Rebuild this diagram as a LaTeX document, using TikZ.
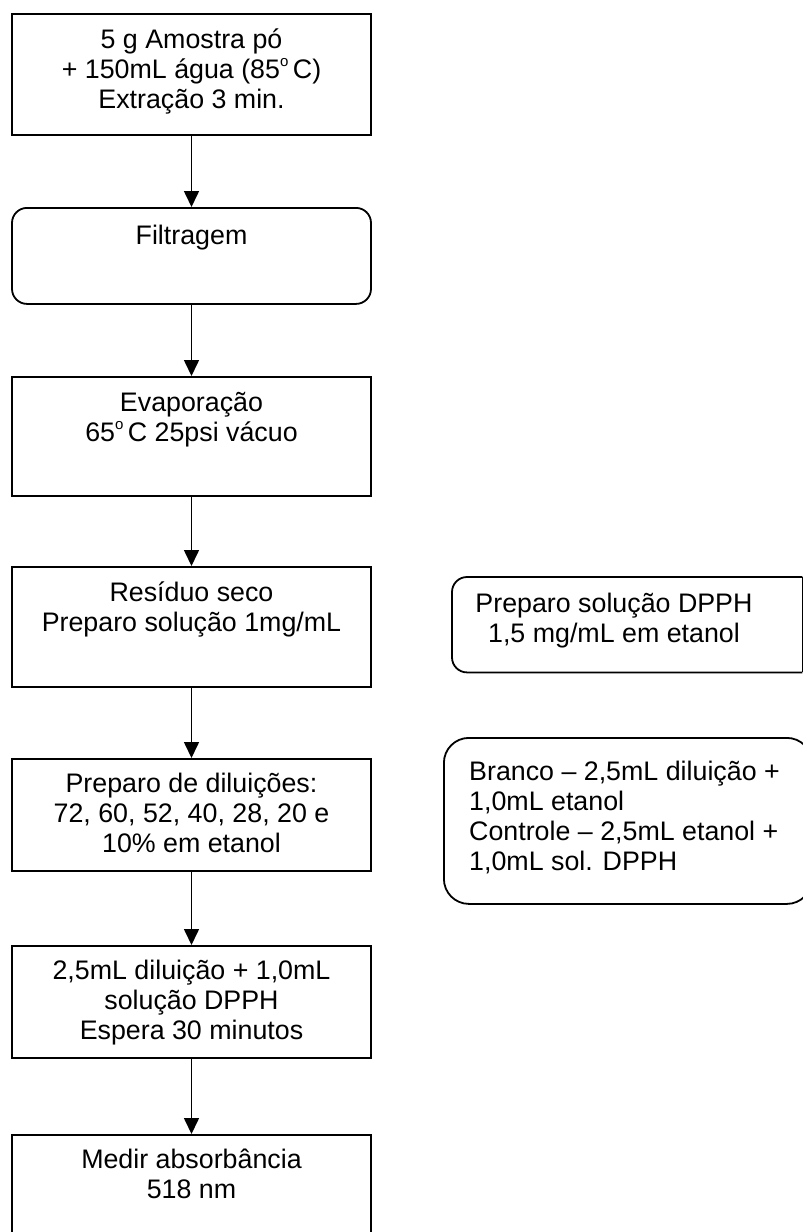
\documentclass[tikz,border=0pt]{standalone}
\usepackage{fontspec}
\setmainfont{Liberation Sans}
\usetikzlibrary{arrows.meta}
\tikzset{
  proc/.style={draw, line width=1.8pt, minimum width=359pt, inner sep=0pt, anchor=north},
  rbox/.style={proc, rounded corners=15pt},
  txt/.style={anchor=north, inner sep=0pt, align=center, font=\fontsize{26.8}{30}\selectfont},
  ltxt/.style={anchor=north west, inner sep=0pt, align=left, font=\fontsize{26.8}{30}\selectfont},
  flow/.style={line width=1.6pt, -{Triangle[length=16pt,width=15pt]}}
}
\newcommand{\fl}{\rule{0pt}{25pt}}
\newcommand{\dg}{\raisebox{0.42em}{\fontsize{15}{15}\selectfont o}}
\begin{document}
\begin{tikzpicture}[x=1pt,y=-1pt]
\useasboundingbox (0,0) rectangle (803,1232);
\clip (0,0) rectangle (803,1232);
\fill[white] (0,0) rectangle (803,1232);
% main column boxes
\node[proc, minimum height=121pt] (b1) at (191.5,13) {};
\node[rbox, minimum height=96pt] (b2) at (191.5,207) {};
\node[proc, minimum height=119pt] (b3) at (191.5,376) {};
\node[proc, minimum height=120pt] (b4) at (191.5,566) {};
\node[proc, minimum height=112pt] (b5) at (191.5,758) {};
\node[proc, minimum height=112pt] (b6) at (191.5,945) {};
\node[proc, minimum height=112pt] (b7) at (191.5,1134) {};
% texts
\node[txt] (t1) at (191.5,23) {\fl 5 g Amostra pó\\+ 150mL água (85\dg\,C)\\Extração 3 min.};
\node[txt] (t2) at (191.5,219) {\fl Filtragem};
\node[txt] (t3) at (191.5,386) {\fl Evaporação\\65\dg\,C 25psi vácuo};
\node[txt] (t4) at (191.5,576) {\fl Resíduo seco\\Preparo solução 1mg/mL};
\node[txt] (t5) at (191.5,767) {\fl Preparo de diluições:\\72, 60, 52, 40, 28, 20 e\\10\% em etanol};
\node[txt] (t6) at (191.5,954) {\fl 2,5mL diluição + 1,0mL\\solução DPPH\\Espera 30 minutos};
\node[txt] (t7) at (191.5,1143) {\fl Medir absorbância\\518 nm};
% arrows
\draw[flow] (b1.south) -- (b2.north);
\draw[flow] (b2.south) -- (b3.north);
\draw[flow] (b3.south) -- (b4.north);
\draw[flow] (b4.south) -- (b5.north);
\draw[flow] (b5.south) -- (b6.north);
\draw[flow] (b6.south) -- (b7.north);
% right side boxes
\node[inner sep=0pt, minimum width=350pt, minimum height=95pt, anchor=north west] (ra) at (452,577) {};
\draw[line width=1.8pt, rounded corners=15pt] (ra.north east) -| (ra.south west) -- (ra.south east);
\draw[line width=1.8pt] (ra.north east) -- (ra.south east);
\node[txt] (ta) at (614,587) {\fl Preparo solução DPPH\\1,5 mg/mL em etanol};
\node[rbox, rounded corners=25pt, minimum width=368pt, minimum height=166pt, anchor=north west] (rb) at (443,737) {};
\node[ltxt] (tb) at (469,755) {\fl Branco – 2,5mL diluição +\\1,0mL etanol\\Controle – 2,5mL etanol +\\1,0mL sol. DPPH};
\end{tikzpicture}
\end{document}
